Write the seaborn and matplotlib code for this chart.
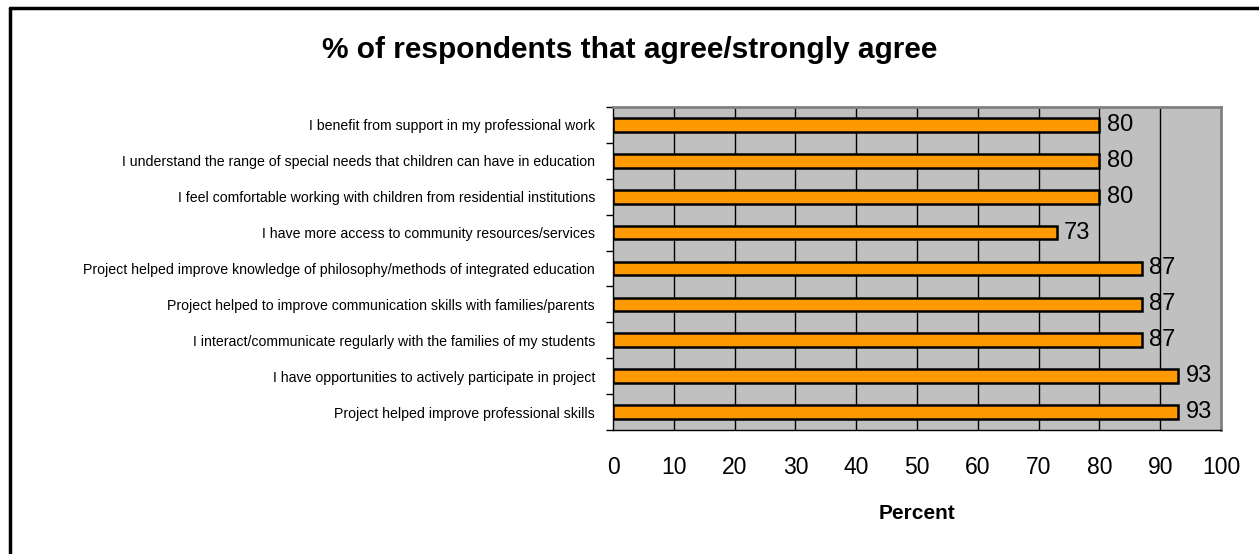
import matplotlib
matplotlib.use("Agg")
import matplotlib.pyplot as plt
import seaborn as sns
import pandas as pd
from matplotlib.lines import Line2D

categories = [
    "I benefit from support in my professional work",
    "I understand the range of special needs that children can have in education",
    "I feel comfortable working with children from residential institutions",
    "I have more access to community resources/services",
    "Project helped improve knowledge of philosophy/methods of integrated education",
    "Project helped to improve communication skills with families/parents",
    "I interact/communicate regularly with the families of my students",
    "I have opportunities to actively participate in project",
    "Project helped improve professional skills",
]
values = [80, 80, 80, 73, 87, 87, 87, 93, 93]
x_ticks = [0, 10, 20, 30, 40, 50, 60, 70, 80, 90, 100]

sns.set_theme(style="white")
plt.rcParams['font.family'] = ['Liberation Sans', 'DejaVu Sans']
plt.rcParams['text.color'] = 'black'
plt.rcParams['xtick.color'] = 'black'
plt.rcParams['ytick.color'] = 'black'
plt.rcParams['axes.labelcolor'] = 'black'

df = pd.DataFrame({"category": categories, "value": values})

fig = plt.figure(figsize=(12.59, 5.54), dpi=100)
ax = fig.add_axes([613/1259, 1-430/554, (1221-613)/1259, (430-107)/554])
ax.set_facecolor("#c0c0c0")

sns.barplot(data=df, x="value", y="category", orient="h", color="#ff9900",
            edgecolor="black", linewidth=1.8, width=0.38, saturation=1, ax=ax, zorder=3)

ax.set_xlim(0, 100)
ax.set_xticks(x_ticks)
ax.set_xticklabels([str(t) for t in x_ticks], fontsize=16.5)
for t in x_ticks[1:-1]:
    ax.axvline(t, color="black", linewidth=1, zorder=1)

ax.set_ylim(len(categories) - 0.5, -0.5)
ax.set_yticks(range(len(categories)))
ax.set_yticklabels(categories, fontsize=10.2)
ax.tick_params(axis="y", length=0, pad=13)
ax.tick_params(axis="x", length=0, pad=19)
# minor ticks at category boundaries
ax.set_yticks([i - 0.5 for i in range(len(categories) + 1)], minor=True)
ax.tick_params(axis="y", which="minor", length=5, width=1, color="black", left=True)
ax.set_xticks(x_ticks, minor=True)
ax.tick_params(axis="x", which="minor", length=6, width=1, color="black", bottom=True)

ax.set_ylabel("")
ax.set_xlabel("Percent", fontsize=15, fontweight="bold", labelpad=18)

for i, v in enumerate(values):
    ax.text(v + 1.2, i, str(v), va="center", ha="left", fontsize=17, zorder=4)

for side in ["top", "right"]:
    ax.spines[side].set_color("#808080")
    ax.spines[side].set_linewidth(2)
for side in ["left", "bottom"]:
    ax.spines[side].set_color("black")
    ax.spines[side].set_linewidth(1)
    ax.spines[side].set_visible(True)

fig.text(630/1259, 1-50/554, "% of respondents that agree/strongly agree",
         ha="center", va="center", fontsize=21.5, fontweight="bold")

# outer chart frame (cropped)
fig.add_artist(Line2D([10/1259, 10/1259], [0, 1-8/554], transform=fig.transFigure,
                      color="black", linewidth=2.5))
fig.add_artist(Line2D([10/1259, 1], [1-8/554, 1-8/554], transform=fig.transFigure,
                      color="black", linewidth=2.5))

fig.savefig("out.png", dpi=100)
